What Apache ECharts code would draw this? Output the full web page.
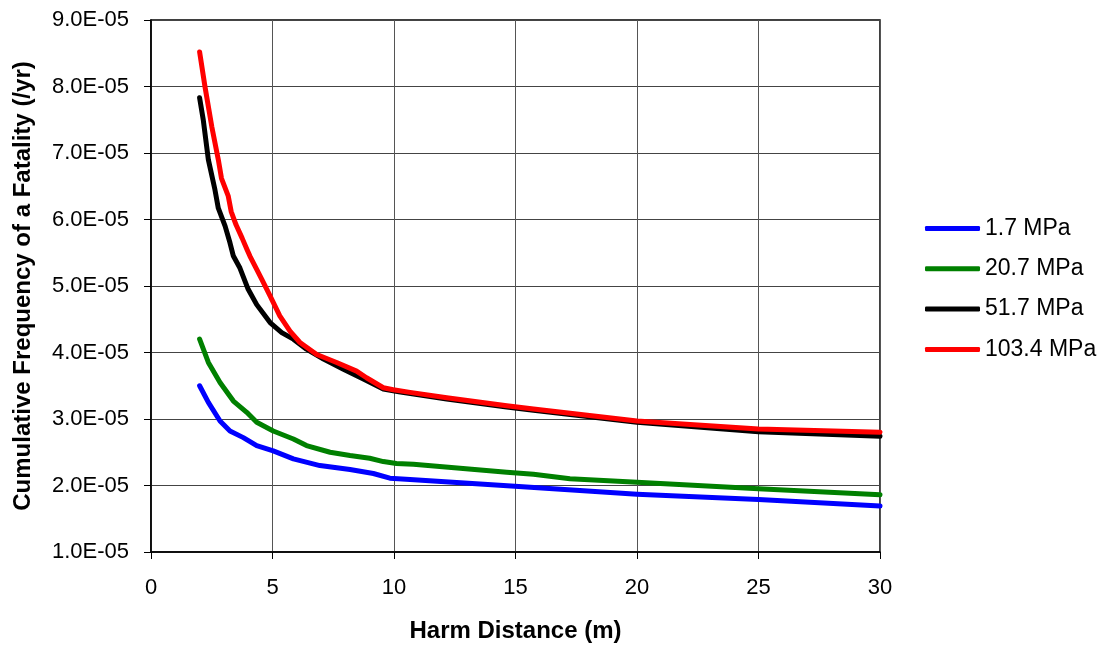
<!DOCTYPE html>
<html>
<head>
<meta charset="utf-8">
<script src="https://cdn.jsdelivr.net/npm/echarts@6/dist/echarts.min.js"></script>
<style>
html,body{margin:0;padding:0;background:#fff;}
#chart{width:1109px;height:648px;}
</style>
</head>
<body>
<div id="chart"></div>
<script>
// Series names
const seriesNames = ['1.7 MPa', '20.7 MPa', '51.7 MPa', '103.4 MPa'];
const seriesColors = ['#0000FF', '#008000', '#000000', '#FF0000'];

// Harm distance (m) and cumulative frequency (/yr) for each series
const x_1_7 = [2.0, 2.36, 2.84, 3.25, 3.8, 4.35, 5.03, 5.86, 6.95, 8.19, 9.15, 9.83, 10.66, 14.98, 20.0, 25.0, 30.0];
const y_1_7 = [3.5e-5, 3.25e-5, 2.97e-5, 2.82e-5, 2.72e-5, 2.6e-5, 2.52e-5, 2.4e-5, 2.3e-5, 2.24e-5, 2.18e-5, 2.11e-5, 2.09e-5, 1.99e-5, 1.87e-5, 1.79e-5, 1.69e-5];

const x_20_7 = [2.0, 2.36, 2.84, 3.39, 3.94, 4.35, 5.03, 5.86, 6.4, 7.37, 8.19, 9.0, 9.56, 10.1, 10.8, 14.64, 15.74, 17.24, 20.0, 25.0, 30.0];
const y_20_7 = [4.2e-5, 3.85e-5, 3.55e-5, 3.27e-5, 3.1e-5, 2.95e-5, 2.82e-5, 2.7e-5, 2.6e-5, 2.5e-5, 2.45e-5, 2.41e-5, 2.36e-5, 2.33e-5, 2.32e-5, 2.2e-5, 2.17e-5, 2.1e-5, 2.05e-5, 1.95e-5, 1.86e-5];

const x_51_7 = [2.0, 2.15, 2.36, 2.63, 2.77, 3.05, 3.25, 3.39, 3.66, 4.0, 4.35, 4.9, 5.38, 5.86, 6.4, 7.1, 7.9, 8.74, 9.56, 10.2, 12.17, 14.64, 15.74, 20.0, 25.0, 30.0];
const y_51_7 = [7.83e-5, 7.5e-5, 6.9e-5, 6.45e-5, 6.17e-5, 5.9e-5, 5.65e-5, 5.45e-5, 5.27e-5, 4.95e-5, 4.72e-5, 4.45e-5, 4.3e-5, 4.2e-5, 4.05e-5, 3.9e-5, 3.75e-5, 3.6e-5, 3.45e-5, 3.41e-5, 3.3e-5, 3.18e-5, 3.13e-5, 2.95e-5, 2.81e-5, 2.74e-5];

const x_103_4 = [2.0, 2.22, 2.5, 2.77, 2.9, 3.18, 3.3, 3.5, 3.75, 3.95, 4.07, 4.35, 4.56, 4.9, 5.3, 5.72, 6.13, 6.82, 7.64, 8.46, 8.87, 9.56, 9.97, 10.66, 12.17, 14.64, 15.74, 20.0, 25.0, 30.0];
const y_103_4 = [8.52e-5, 8.0e-5, 7.4e-5, 6.9e-5, 6.62e-5, 6.35e-5, 6.12e-5, 5.92e-5, 5.72e-5, 5.55e-5, 5.45e-5, 5.25e-5, 5.1e-5, 4.85e-5, 4.55e-5, 4.32e-5, 4.15e-5, 3.97e-5, 3.85e-5, 3.72e-5, 3.62e-5, 3.47e-5, 3.44e-5, 3.4e-5, 3.32e-5, 3.2e-5, 3.15e-5, 2.97e-5, 2.85e-5, 2.8e-5];

// Axis settings
const xMin = 0, xMax = 30, xInterval = 5;
const yMin = 1e-5, yMax = 9e-5, yInterval = 1e-5;
const xTitle = 'Harm Distance (m)';
const yTitle = 'Cumulative Frequency of a Fatality (/yr)';

const xsAll = [x_1_7, x_20_7, x_51_7, x_103_4];
const ysAll = [y_1_7, y_20_7, y_51_7, y_103_4];

function sciLabel(v) {
  if (v === 0) return '0.0E+00';
  let e = Math.floor(Math.log10(Math.abs(v)) + 1e-9);
  let m = v / Math.pow(10, e);
  let ms = m.toFixed(1);
  if (ms === '10.0') { e += 1; ms = '1.0'; }
  const sign = e < 0 ? '-' : '+';
  const ea = Math.abs(e);
  return ms + 'E' + sign + (ea < 10 ? '0' + ea : '' + ea);
}

const font = 'Liberation Sans, Arial, sans-serif';

const series = seriesNames.map((name, i) => ({
  name: name,
  type: 'line',
  data: xsAll[i].map((x, j) => [x, ysAll[i][j]]),
  showSymbol: false,
  symbol: 'none',
  smooth: false,
  lineStyle: { color: seriesColors[i], width: 5, cap: 'round', join: 'round' },
  itemStyle: { color: seriesColors[i] },
  z: 2 + i,
  animation: false
}));

const chart = echarts.init(document.getElementById('chart'), null, { renderer: 'canvas' });
chart.setOption({
  animation: false,
  backgroundColor: '#ffffff',
  grid: {
    left: 151, right: 229, top: 20, bottom: 95,
    show: true, borderColor: '#000000', borderWidth: 1.5, backgroundColor: '#ffffff'
  },
  legend: {
    data: seriesNames,
    orient: 'vertical',
    left: 925,
    top: 217,
    padding: 0,
    icon: 'roundRect',
    itemWidth: 55,
    itemHeight: 5,
    itemGap: 17.3,
    textStyle: { fontFamily: font, fontSize: 23, color: '#000', lineHeight: 22 }
  },
  xAxis: {
    type: 'value',
    min: xMin, max: xMax, interval: xInterval,
    name: xTitle,
    nameLocation: 'middle',
    nameGap: 67,
    nameTextStyle: { fontFamily: font, fontSize: 24, fontWeight: 'bold', color: '#000' },
    axisLine: { show: true, onZero: false, lineStyle: { color: '#000', width: 1.5 } },
    axisTick: { show: true, inside: false, length: 7, lineStyle: { color: '#000' } },
    axisLabel: { fontFamily: font, fontSize: 22, color: '#000', margin: 25 },
    splitLine: { show: true, lineStyle: { color: '#555', width: 1 } }
  },
  yAxis: {
    type: 'value',
    min: yMin, max: yMax, interval: yInterval,
    name: yTitle,
    nameLocation: 'middle',
    nameGap: 116,
    nameRotate: 90,
    nameTextStyle: { fontFamily: font, fontSize: 24, fontWeight: 'bold', color: '#000' },
    axisLine: { show: true, onZero: false, lineStyle: { color: '#000', width: 1.5 } },
    axisTick: { show: true, inside: false, length: 7, lineStyle: { color: '#000' } },
    axisLabel: { fontFamily: font, fontSize: 22, color: '#000', margin: 22, formatter: sciLabel },
    splitLine: { show: true, lineStyle: { color: '#444', width: 1 } }
  },
  series: series
});
</script>
</body>
</html>
